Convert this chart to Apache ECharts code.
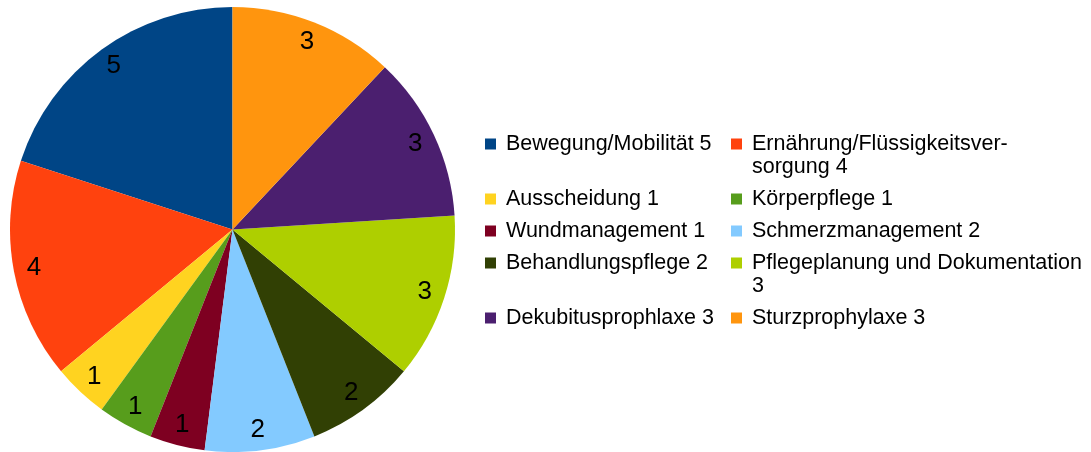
<!DOCTYPE html>
<html>
<head>
<meta charset="utf-8">
<script src="https://cdn.jsdelivr.net/npm/echarts@6/dist/echarts.min.js"></script>
<style>
  html, body { margin: 0; background: #fff; }
  #chart { width: 1091px; height: 452px; }
</style>
</head>
<body>
<div id="chart"></div>
<script>
const categories = [
  'Bewegung/Mobilität',
  'Ernährung/Flüssigkeitsversorgung',
  'Ausscheidung',
  'Körperpflege',
  'Wundmanagement',
  'Schmerzmanagement',
  'Behandlungspflege',
  'Pflegeplanung und Dokumentation',
  'Dekubitusprophlaxe',
  'Sturzprophylaxe'
]
const counts = [5, 4, 1, 1, 1, 2, 2, 3, 3, 3]

const palette = ['#004586', '#ff420e', '#ffd320', '#579d1c', '#7e0021',
  '#83caff', '#314004', '#aecf00', '#4b1f6f', '#ff950e']

const font = 'Liberation Sans, Arial, sans-serif'
const center = [232.5, 229.5]
const radius = 222.5
const lineH = 23

// legend lines wrap where the original wraps them
function legendText(name, value) {
  if (name === 'Ernährung/Flüssigkeitsversorgung') return 'Ernährung/Flüssigkeitsver-\nsorgung ' + value
  if (name === 'Pflegeplanung und Dokumentation') return name + '\n' + value
  return name + ' ' + value
}

const pieData = categories.map((name, i) => ({ name, value: counts[i], itemStyle: { color: palette[i] } }))

// two column legend, row height grows with wrapped lines
const colLeft = [485, 731]
const texts = categories.map((n, i) => legendText(n, counts[i]))
const rowCenter = []
let y = 144
for (let r = 0; r < Math.ceil(texts.length / 2); r++) {
  rowCenter.push(y)
  const lines = Math.max(...texts.slice(r * 2, r * 2 + 2).map(t => t.split('\n').length))
  y += 32 + lineH * (lines - 1)
}

const legends = categories.map((name, i) => {
  const extra = texts[i].split('\n').length - 1
  // square stays at the first line, the icon box is as tall as the text
  const h = 11 + lineH * extra
  return {
    data: [name],
    icon: 'path://M0,0h11v11h-11z' + (extra ? 'M0,' + (h - 0.05) + 'h0.05v0.05h-0.05z' : ''),
    symbolKeepAspect: false,
    itemWidth: 11,
    itemHeight: h,
    padding: 0,
    selectedMode: false,
    left: colLeft[i % 2],
    top: rowCenter[Math.floor(i / 2)] - lineH / 2,
    formatter: () => texts[i],
    textStyle: {
      fontFamily: font,
      fontSize: 21.5,
      lineHeight: lineH,
      color: '#000',
      padding: [0, 0, 0, 5]
    }
  }
})

const chart = echarts.init(document.getElementById('chart'))
chart.setOption({
  animation: false,
  legend: legends,
  series: [
    {
      type: 'pie',
      center: center,
      radius: [0, radius],
      startAngle: 90,
      clockwise: false,
      silent: true,
      data: pieData,
      itemStyle: { borderWidth: 0 },
      label: { show: false },
      labelLine: { show: false }
    },
    {
      // label ring, labels sit near the rim
      type: 'pie',
      center: center,
      radius: [175.5, radius],
      startAngle: 90,
      clockwise: false,
      silent: true,
      avoidLabelOverlap: false,
      data: pieData.map(d => ({ name: d.name, value: d.value })),
      itemStyle: { color: 'rgba(0,0,0,0)', borderWidth: 0 },
      label: {
        show: true,
        position: 'inside',
        formatter: '{c}',
        fontFamily: font,
        fontSize: 26,
        color: '#000',
        padding: [7, 0, 0, 0]
      },
      labelLine: { show: false }
    }
  ]
})
</script>
</body>
</html>
